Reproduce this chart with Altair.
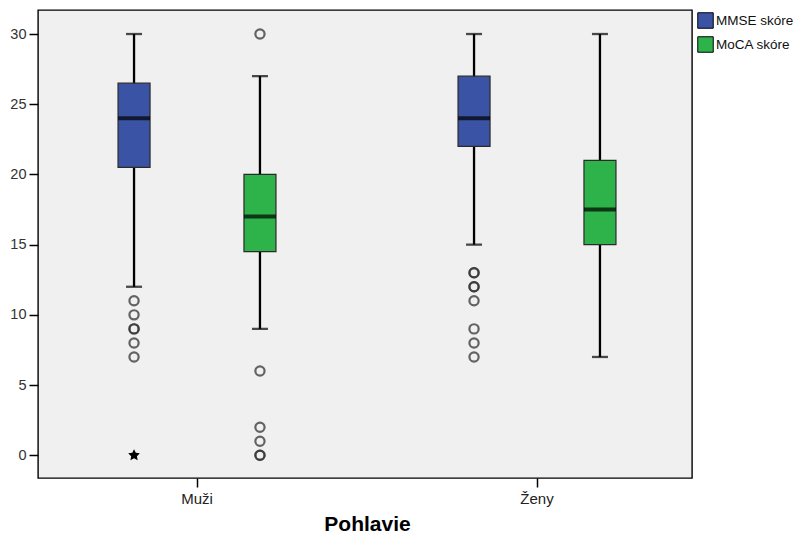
import altair as alt
import pandas as pd

# ---- data ----
groups = ["Muži", "Muži", "Ženy", "Ženy"]
series = ["MMSE skóre", "MoCA skóre", "MMSE skóre", "MoCA skóre"]
whisk_lo = [12, 9, 15, 7]
q1 = [20.5, 14.5, 22, 15]
median = [24, 17, 24, 17.5]
q3 = [26.5, 20, 27, 21]
whisk_hi = [30, 27, 30, 30]

out_group = ["Muži"] * 6 + ["Muži"] * 6 + ["Ženy"] * 8
out_series = ["MMSE skóre"] * 6 + ["MoCA skóre"] * 6 + ["MMSE skóre"] * 8
out_value = [11, 10, 9, 9, 8, 7,
             30, 6, 2, 1, 0, 0,
             13, 13, 12, 12, 11, 9, 8, 7]

ext_group = ["Muži"]
ext_series = ["MMSE skóre"]
ext_value = [0]

categories = ["Muži", "Ženy"]
series_names = ["MMSE skóre", "MoCA skóre"]
colors = ["#3b53a4", "#2db34a"]
y_ticks = [0, 5, 10, 15, 20, 25, 30]

box_df = pd.DataFrame({"Pohlavie": groups, "Skóre": series, "lo": whisk_lo,
                       "q1": q1, "med": median, "q3": q3, "hi": whisk_hi})
out_df = pd.DataFrame({"Pohlavie": out_group, "Skóre": out_series, "v": out_value})
ext_df = pd.DataFrame({"Pohlavie": ext_group, "Skóre": ext_series, "v": ext_value})

FONT = "Liberation Sans"
W, H = 654, 468

x = alt.X("Pohlavie:N", sort=categories,
          scale=alt.Scale(paddingInner=0, paddingOuter=0, range=[-11, 669]),
          axis=alt.Axis(title="Pohlavie", labelAngle=0, labelFont=FONT, labelFontSize=15,
                        labelColor="#222", tickColor="#000", tickSize=9, tickWidth=1.5,
                        domain=False, titleFont=FONT, titleFontSize=21,
                        titleFontWeight="bold", titleColor="#000", titlePadding=7,
                        labelPadding=4))
xo = alt.XOffset("Skóre:N", sort=series_names,
                 scale=alt.Scale(paddingInner=0, paddingOuter=0.35))
yscale = alt.Scale(domain=[-1.62, 31.71], nice=False, zero=False)
yaxis = alt.Axis(title=None, values=y_ticks, labelFont=FONT, labelFontSize=14.5,
                 labelColor="#333", tickColor="#000", tickSize=9, tickWidth=1.5,
                 domain=False, grid=False, labelPadding=3)

base = alt.Chart(box_df)

whiskers = base.mark_rule(strokeWidth=2.3, color="#000").encode(
    x=x, xOffset=xo, y=alt.Y("lo:Q", scale=yscale, axis=yaxis), y2="hi:Q")
cap_hi = base.mark_tick(size=16, thickness=2.3, color="#000").encode(
    x=x, xOffset=xo, y=alt.Y("hi:Q", scale=yscale))
cap_lo = base.mark_tick(size=16, thickness=2.3, color="#000").encode(
    x=x, xOffset=xo, y=alt.Y("lo:Q", scale=yscale))
boxes = base.mark_bar(size=32, stroke="#2a2a2a", strokeWidth=1.2, opacity=1).encode(
    x=x, xOffset=xo, y=alt.Y("q1:Q", scale=yscale), y2="q3:Q",
    color=alt.Color("Skóre:N", sort=series_names,
                    scale=alt.Scale(domain=series_names, range=colors),
                    legend=alt.Legend(title=None, orient="none", legendX=659, legendY=2,
                                      symbolType="square", symbolSize=240,
                                      symbolStrokeColor="#000", symbolStrokeWidth=1,
                                      symbolOpacity=1, labelFont=FONT, labelFontSize=13.5,
                                      labelColor="#111", rowPadding=3, labelOffset=2)))
medians = base.mark_tick(size=32, thickness=4, color="#000").encode(
    x=x, xOffset=xo, y=alt.Y("med:Q", scale=yscale))
outliers = alt.Chart(out_df).mark_point(shape="circle", filled=False, size=85,
                                        strokeWidth=2.2, color="#333", opacity=0.75).encode(
    x=x, xOffset=xo, y=alt.Y("v:Q", scale=yscale))
star_path = ("M0,-1L0.29,-0.4L0.95,-0.31L0.47,0.15L0.59,0.81L0,0.5L-0.59,0.81"
             "L-0.47,0.15L-0.95,-0.31L-0.29,-0.4Z")
extremes = alt.Chart(ext_df).mark_point(shape=star_path, filled=True, size=150,
                                        color="#000", opacity=1).encode(
    x=x, xOffset=xo, y=alt.Y("v:Q", scale=yscale))

chart = alt.layer(whiskers, cap_hi, cap_lo, boxes, medians, outliers, extremes).properties(
    width=W, height=H,
    autosize=alt.AutoSizeParams(type="none"),
    padding={"left": 30, "top": 2, "right": 107, "bottom": 57},
    background="white",
).configure_view(fill="#f0f0f0", stroke="#000", strokeWidth=1.4)

chart.save("out.html", embed_options={"renderer": "svg", "actions": False})
